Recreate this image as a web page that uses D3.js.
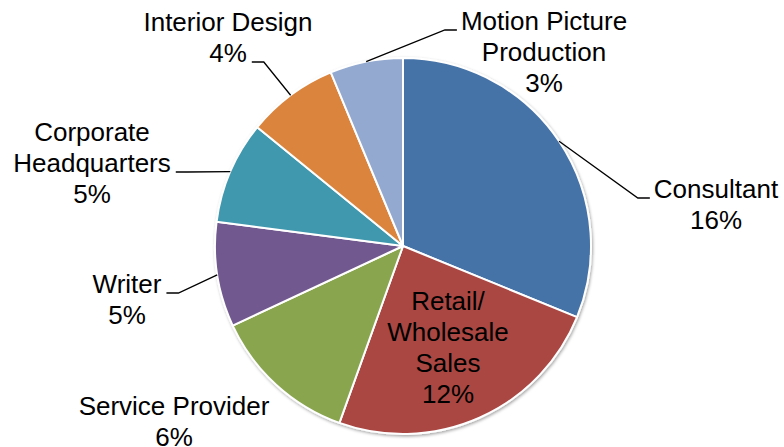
<!DOCTYPE html>
<html lang="en">
  <head>
    <meta charset="UTF-8" />
    <title>Occupations</title>
    <script src="https://cdn.jsdelivr.net/npm/d3@7"></script>
    <style>
      body { margin: 0; background: #fff; }
      text { font-family: "Liberation Sans", Arial, sans-serif; font-size: 26px; fill: #000; }
    </style>
  </head>
  <body>
    <div id="wrapper"></div>
    <script>
      const categories = ['Consultant', 'Retail/Wholesale Sales', 'Service Provider', 'Writer',
        'Corporate Headquarters', 'Interior Design', 'Motion Picture Production']
      const shares = [15.9, 12.4, 6.4, 4.6, 4.5, 4.0, 3.2]
      const pctLabels = ['16%', '12%', '6%', '5%', '5%', '4%', '3%']
      const labelLines = [
        ['Consultant'],
        ['Retail/', 'Wholesale', 'Sales'],
        ['Service Provider'],
        ['Writer'],
        ['Corporate', 'Headquarters'],
        ['Interior Design'],
        ['Motion Picture', 'Production']
      ]
      const colors = ['#4572A7', '#AA4643', '#89A54E', '#71588F', '#4198AF', '#DB843D', '#93A9CF']

      // label placement: center x, first baseline, which line gets the leader, side of the leader
      const layout = [
        { x: 716, y: 198, lead: 0, side: 'left' },
        { x: 448, y: 310, lead: -1 },
        { x: 174, y: 415, lead: -1 },
        { x: 127, y: 293, lead: 0, side: 'right' },
        { x: 92, y: 141, lead: 1, side: 'right' },
        { x: 228, y: 31, lead: 1, side: 'right' },
        { x: 544, y: 30, lead: 0, side: 'left' }
      ]

      const dms = { width: 784, height: 447, cx: 403, cy: 246, r: 188, lineH: 31 }

      const svg = d3.select('#wrapper').append('svg')
        .attr('width', dms.width)
        .attr('height', dms.height)

      const defs = svg.append('defs')
      const f = defs.append('filter').attr('id', 'shadow')
        .attr('x', '-10%').attr('y', '-10%').attr('width', '120%').attr('height', '120%')
      f.append('feDropShadow')
        .attr('dx', 1).attr('dy', 1.5).attr('stdDeviation', 1.5)
        .attr('flood-color', '#000').attr('flood-opacity', 0.35)

      const pie = d3.pie().sort(null).value(d => d)
      const arcs = pie(shares)
      const arc = d3.arc().innerRadius(0).outerRadius(dms.r)

      const g = svg.append('g')
        .attr('transform', `translate(${dms.cx},${dms.cy})`)

      g.append('g')
        .attr('filter', 'url(#shadow)')
        .selectAll('path')
        .data(arcs)
        .join('path')
        .attr('d', arc)
        .attr('fill', (d, i) => colors[i])
        .attr('stroke', '#fff')
        .attr('stroke-width', 2)
        .attr('stroke-linejoin', 'round')

      const labels = svg.append('g')

      arcs.forEach((a, i) => {
        const L = layout[i]
        const lines = labelLines[i].concat([pctLabels[i]])
        const t = labels.append('text').attr('text-anchor', 'middle')
        lines.forEach((s, k) => {
          t.append('tspan').attr('x', L.x).attr('y', L.y + k * dms.lineH).text(s)
        })
        if (L.lead < 0) return
        const span = t.selectAll('tspan').nodes()[L.lead]
        const w = span.getComputedTextLength()
        const by = L.y + L.lead * dms.lineH
        const mid = (a.startAngle + a.endAngle) / 2
        const ex = dms.cx + dms.r * Math.sin(mid)
        const ey = dms.cy - dms.r * Math.cos(mid)
        const x0 = L.side === 'left' ? L.x - w / 2 - 4 : L.x + w / 2 + 5
        const x1 = L.side === 'left' ? x0 - 12 : x0 + 12
        labels.append('path')
          .attr('d', d3.line()([[x0, by], [x1, by], [ex, ey]]))
          .attr('fill', 'none')
          .attr('stroke', '#000')
          .attr('stroke-width', 1.3)
      })
    </script>
  </body>
</html>
